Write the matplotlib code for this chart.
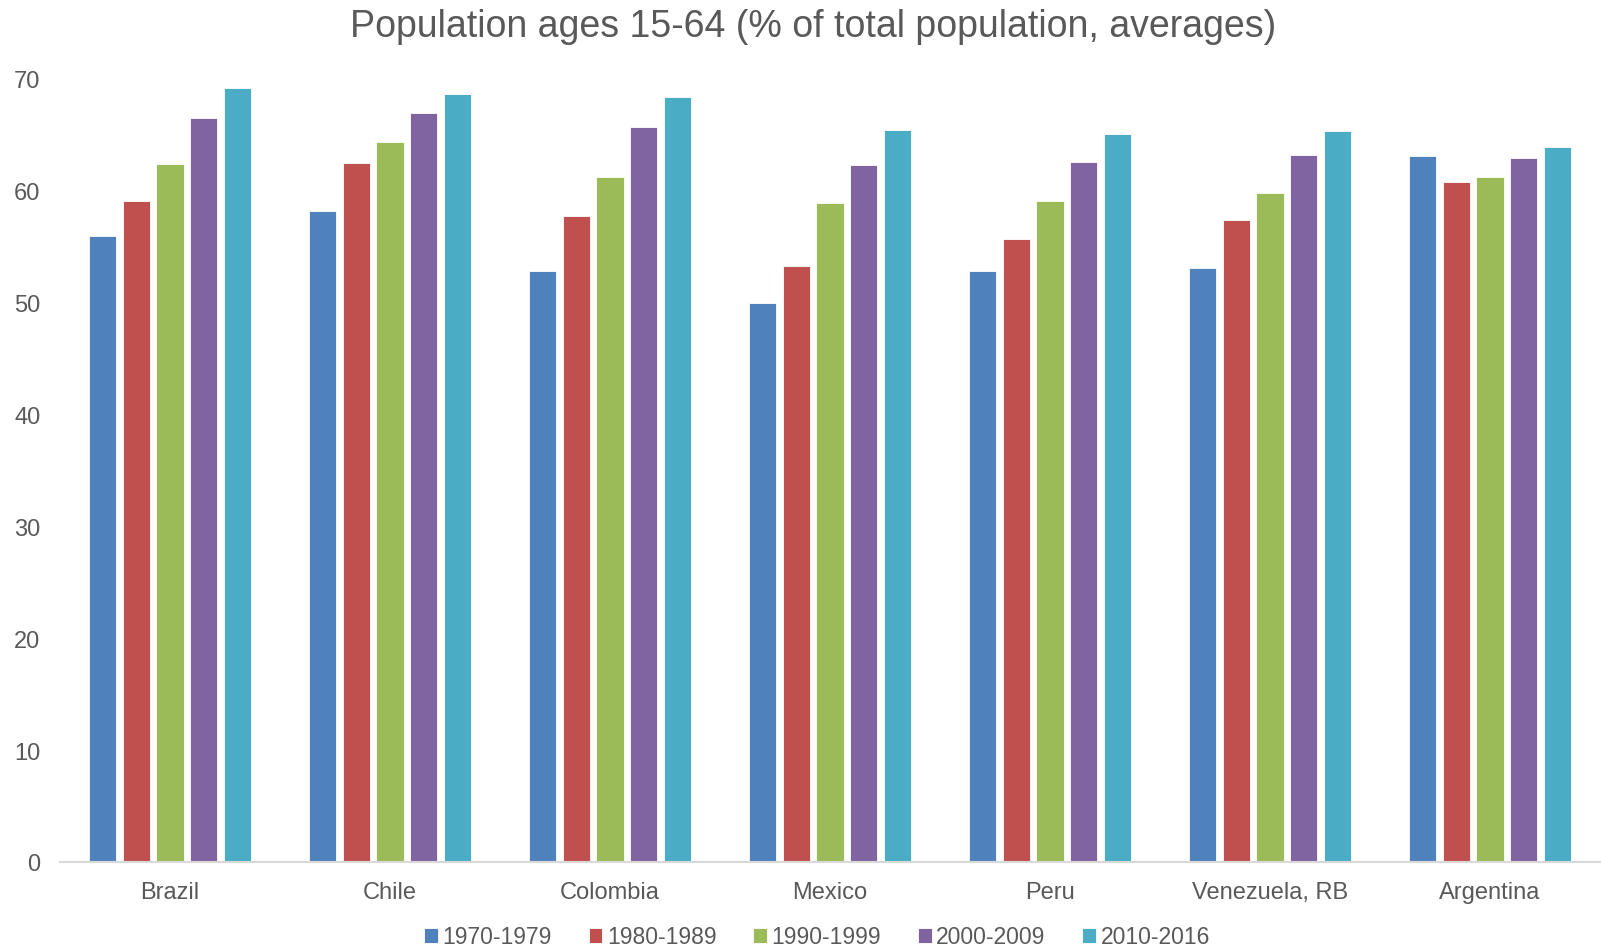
import numpy as np
import matplotlib
matplotlib.use("Agg")
import matplotlib.pyplot as plt

countries = ["Brazil", "Chile", "Colombia", "Mexico", "Peru", "Venezuela, RB", "Argentina"]
periods = ["1970-1979", "1980-1989", "1990-1999", "2000-2009", "2010-2016"]
colors = ["#4F81BD", "#C0504D", "#9BBB59", "#8064A2", "#4BACC6"]

v_1970 = [55.9, 58.1, 52.8, 49.9, 52.8, 53.0, 63.0]
v_1980 = [59.0, 62.4, 57.7, 53.2, 55.6, 57.3, 60.7]
v_1990 = [62.3, 64.3, 61.2, 58.8, 59.0, 59.7, 61.2]
v_2000 = [66.45, 66.9, 65.6, 62.2, 62.5, 63.1, 62.9]
v_2010 = [69.1, 68.6, 68.3, 65.4, 65.0, 65.3, 63.8]
series = [v_1970, v_1980, v_1990, v_2000, v_2010]

txt = "#595959"
plt.rcParams['font.family'] = ['Liberation Sans', 'DejaVu Sans']

fig = plt.figure(figsize=(16.01, 9.53), dpi=100)
ax = fig.add_axes([60 / 1601, 1 - 863 / 953, 1 - 61 / 1601, (863 - 79) / 953])

x = np.arange(len(countries))
pitch = 0.153
width = 0.125
for i, (vals, c, lab) in enumerate(zip(series, colors, periods)):
    ax.bar(x + (i - 2) * pitch, vals, width, color=c, label=lab,
           edgecolor="white", linewidth=0.6)

ax.set_xlim(-0.5, len(countries) - 0.5)
ax.set_ylim(0, 70)
ax.set_yticks(range(0, 71, 10))
ax.set_xticks(x)
ax.set_xticklabels(countries)
ax.tick_params(axis="both", length=0, labelsize=17, colors=txt)
ax.tick_params(axis="y", pad=14)
ax.tick_params(axis="x", pad=14)
for s in ["top", "right", "left"]:
    ax.spines[s].set_visible(False)
ax.spines["bottom"].set_color("#D9D9D9")
ax.spines["bottom"].set_linewidth(1.5)

fig.text(813 / 1601, 1 - 27 / 953, "Population ages 15-64 (% of total population, averages)",
         ha="center", va="center", fontsize=27, color=txt)

leg = fig.legend(loc="center", bbox_to_anchor=(817 / 1601, 1 - 938 / 953), ncol=5,
                 frameon=False, fontsize=16.5, handlelength=0.6, handleheight=0.6,
                 handletextpad=0.2, columnspacing=1.6, borderpad=0.1)
for t in leg.get_texts():
    t.set_color(txt)

fig.savefig("out.png", dpi=100)
